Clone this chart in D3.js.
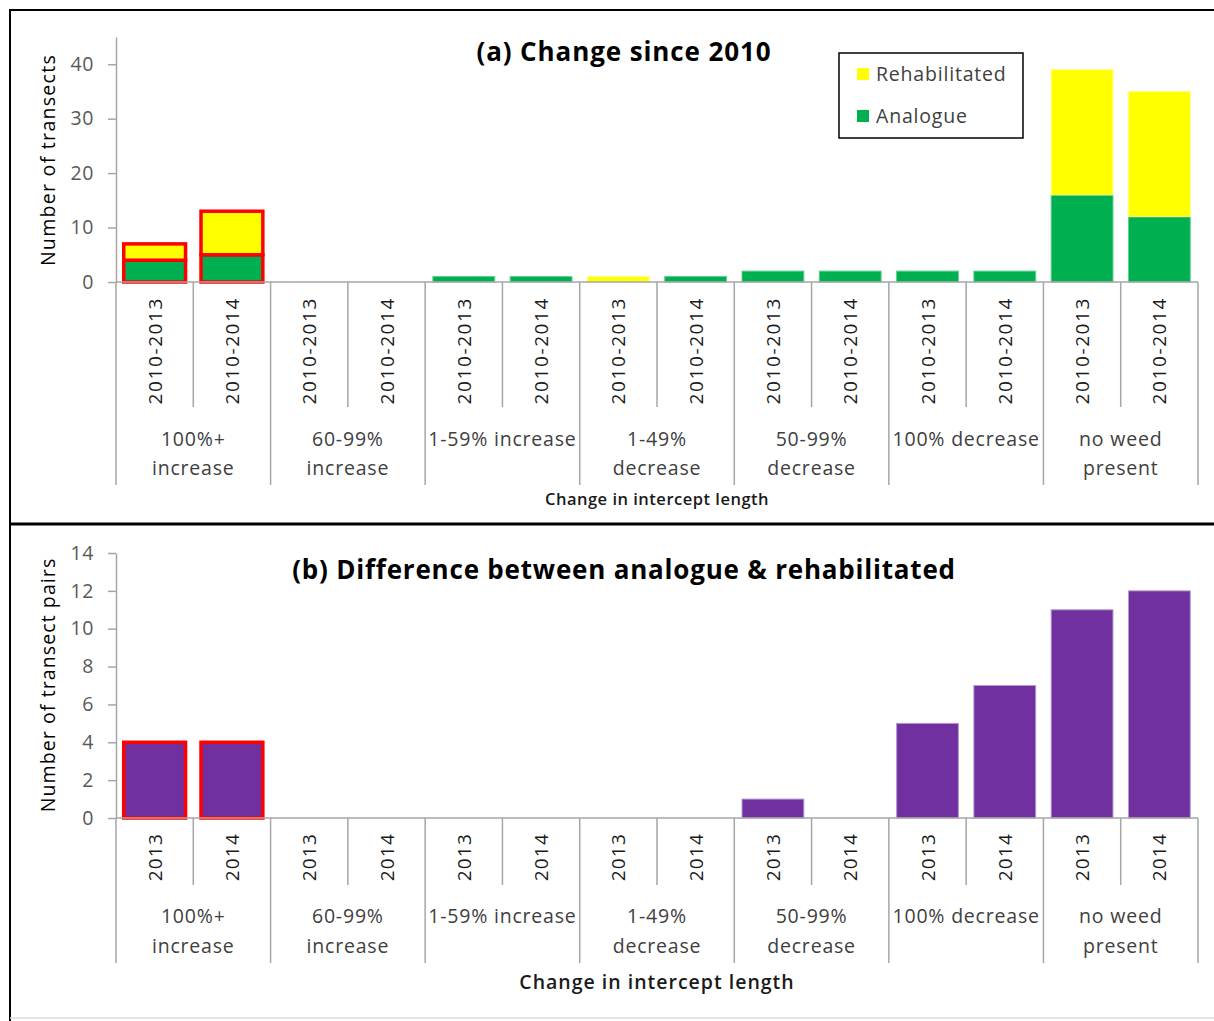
<!DOCTYPE html>
<html><head><meta charset="utf-8">
<script src="https://cdn.jsdelivr.net/npm/d3@7"></script>
<style>
body{margin:0;background:#fff;}
svg{display:block;}
</style></head>
<body>
<svg id="c" width="1214" height="1021"></svg>
<script>
// ---- data ----
const groups = [["100%+","increase"],["60-99%","increase"],["1-59% increase"],["1-49%","decrease"],["50-99%","decrease"],["100% decrease"],["no weed","present"]];
const periodsA = ["2010-2013","2010-2014"];
const periodsB = ["2013","2014"];
const analogue      = [4,5,0,0,1,1,0,1,2,2,2,2,16,12];
const rehabilitated = [3,8,0,0,0,0,1,0,0,0,0,0,23,23];
const difference    = [4,4,0,0,0,0,0,0,1,0,5,7,11,12];
const highlighted   = [0,1];
const yTicksA = [0,10,20,30,40];
const yTicksB = [0,2,4,6,8,10,12,14];
const seriesNames = ["Rehabilitated","Analogue"];

const F = "'Open Sans', Lato, sans-serif";
const svg = d3.select("#c");
const C = {yellow:"#FFFF00", green:"#00B050", purple:"#7030A0", red:"#FF0000", axis:"#A6A6A6", tick:"#595959"};

// panel frames
svg.append("path").attr("d","M10,1021 V10 H1214").attr("fill","none").attr("stroke","#000").attr("stroke-width",2);
svg.append("line").attr("x1",10).attr("x2",1214).attr("y1",524).attr("y2",524).attr("stroke","#000").attr("stroke-width",3);
svg.append("line").attr("x1",10).attr("x2",1214).attr("y1",1018).attr("y2",1018).attr("stroke","#ddd").attr("stroke-width",1.5);

function txt(g){ return g.append("text").style("font-family",F); }

function panel(o){
  const g = svg.append("g");
  const n = groups.length*2;
  const cats = d3.range(n);
  const x = d3.scaleBand().domain(cats).range([116,1198]).paddingInner(0.2).paddingOuter(0.1);
  const y = d3.scaleLinear().domain(o.domain).range([o.y0,o.yTop]);
  const step = x.step();
  const left = 116;

  // y axis
  const ya = g.append("g").attr("transform",`translate(${left},0)`)
    .call(d3.axisLeft(y).tickValues(o.ticks).tickSize(8).tickSizeOuter(0).tickPadding(14));
  ya.select(".domain").attr("stroke",C.axis).attr("stroke-width",1.5);
  ya.selectAll(".tick line").attr("stroke",C.axis).attr("stroke-width",1.5);
  ya.selectAll(".tick text").attr("fill",C.tick).style("font-size","19.5px").style("font-family",F).attr("letter-spacing",0.6);

  // y title
  txt(g).attr("transform",`translate(55,${o.ytCenter}) rotate(-90)`)
    .attr("text-anchor","middle").style("font-size","19.5px").attr("letter-spacing",o.ytSpacing).attr("fill","#000").text(o.ytitle);

  // bars
  o.draw(g,x,y);

  // baseline & dividers
  g.append("line").attr("x1",left).attr("x2",1198).attr("y1",o.y0).attr("y2",o.y0).attr("stroke",C.axis).attr("stroke-width",1.5);
  d3.range(n+1).forEach(i=>{
    const xx = left + i*step;
    g.append("line").attr("x1",xx).attr("x2",xx).attr("y1",o.y0).attr("y2", i%2===0 ? o.groupEnd : o.pairEnd)
      .attr("stroke",C.axis).attr("stroke-width",1.5);
  });
  // period labels
  cats.forEach(i=>{
    const cx = x(i)+x.bandwidth()/2;
    txt(g).attr("transform",`translate(${cx+7},${o.y0+15}) rotate(-90)`)
      .attr("text-anchor","end").style("font-size","19px").attr("letter-spacing",o.plSpacing).attr("fill","#1a1a1a")
      .text(o.periods[i%2]);
  });
  // group labels
  groups.forEach((lines,gi)=>{
    const cx = left + (gi*2+1)*step;
    lines.forEach((t,li)=>{
      txt(g).attr("x",cx).attr("y",o.glY + li*o.glLine).attr("text-anchor","middle")
        .style("font-size","19.5px").attr("letter-spacing",0.8).attr("fill","#404040").text(t);
    });
  });
  // x title
  txt(g).attr("x",657).attr("y",o.xtY).attr("text-anchor","middle").style("font-size",o.xtSize+"px")
    .attr("letter-spacing",o.xtSpacing).style("font-weight",600).attr("fill","#1a1a1a").text("Change in intercept length");
  // title
  txt(g).attr("x",624).attr("y",o.titleY).attr("text-anchor","middle").style("font-size","26px")
    .attr("letter-spacing",o.titleSpacing).style("font-weight","bold").attr("fill","#000").text(o.title);
}

// Panel (a)
panel({
  domain:[0,45], y0:282, yTop:37, ticks:yTicksA, ytitle:"Number of transects", ytCenter:160, ytSpacing:1.3,
  periods:periodsA, pairEnd:407, groupEnd:485, glY:446, glLine:29, plSpacing:1.6,
  xtY:505, xtSize:16.5, xtSpacing:0.5, title:"(a) Change since 2010", titleY:61, titleSpacing:0.9,
  draw:(g,x,y)=>{
    analogue.forEach((a,i)=>{
      const r = rehabilitated[i];
      const hl = highlighted.includes(i);
      if(a>0) g.append("rect").attr("x",x(i)).attr("width",x.bandwidth()).attr("y",y(a)).attr("height",y(0)-y(a))
        .attr("fill",C.green).attr("stroke",hl?C.red:"#5fcf8a").attr("stroke-width",hl?3.5:1);
      if(r>0) g.append("rect").attr("x",x(i)).attr("width",x.bandwidth()).attr("y",y(a+r)).attr("height",y(a)-y(a+r))
        .attr("fill",C.yellow).attr("stroke",hl?C.red:"#ffff80").attr("stroke-width",hl?3.5:1);
    });
    // legend
    const lg = g.append("g");
    lg.append("rect").attr("x",839).attr("y",53).attr("width",184).attr("height",85).attr("fill","#fff").attr("stroke","#000").attr("stroke-width",1.5);
    [[C.yellow,seriesNames[0],74],[C.green,seriesNames[1],116]].forEach(([c,t,yy])=>{
      lg.append("rect").attr("x",857).attr("y",yy-6).attr("width",12).attr("height",12).attr("fill",c);
      txt(lg).attr("x",876).attr("y",yy+6.5).style("font-size","19.5px").attr("letter-spacing",0.8).attr("fill","#404040").text(t);
    });
  }
});

// Panel (b)
panel({
  domain:[0,14], y0:818, yTop:553, ticks:yTicksB, ytitle:"Number of transect pairs", ytCenter:685, ytSpacing:1.1,
  periods:periodsB, pairEnd:885, groupEnd:963, glY:923, glLine:30, plSpacing:1.2,
  xtY:989, xtSize:19.5, xtSpacing:1.0, title:"(b) Difference between analogue & rehabilitated", titleY:579, titleSpacing:0.8,
  draw:(g,x,y)=>{
    difference.forEach((v,i)=>{
      const hl = highlighted.includes(i);
      if(v>0) g.append("rect").attr("x",x(i)).attr("width",x.bandwidth()).attr("y",y(v)).attr("height",y(0)-y(v))
        .attr("fill",C.purple).attr("stroke",hl?C.red:"#b49ad0").attr("stroke-width",hl?3.5:1);
    });
  }
});
</script>
</body></html>
